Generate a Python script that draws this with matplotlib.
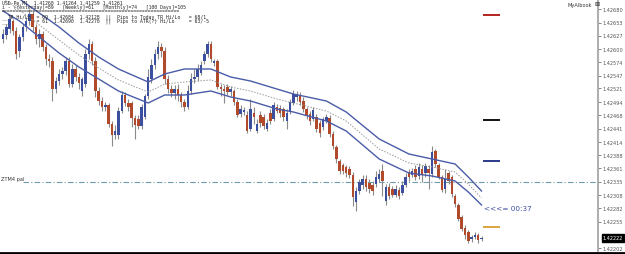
import matplotlib
matplotlib.use("Agg")
import matplotlib.pyplot as plt
from matplotlib.lines import Line2D
from matplotlib.transforms import blended_transform_factory
import numpy as np

# M1 candles
opens = [1.42620, 1.42628, 1.42640, 1.42656, 1.42636, 1.42596, 1.42624, 1.42644, 1.42656, 1.42670,
         1.42644, 1.42620, 1.42630, 1.42604, 1.42580, 1.42576, 1.42520, 1.42536, 1.42550, 1.42556,
         1.42576, 1.42530, 1.42560, 1.42544, 1.42516, 1.42530, 1.42590, 1.42610, 1.42576, 1.42516,
         1.42496, 1.42484, 1.42488, 1.42450, 1.42428, 1.42428, 1.42476, 1.42508, 1.42492, 1.42492,
         1.42462, 1.42460, 1.42446, 1.42464, 1.42506, 1.42540, 1.42568, 1.42590, 1.42604, 1.42596,
         1.42540, 1.42520, 1.42512, 1.42520, 1.42508, 1.42494, 1.42484, 1.42516, 1.42540, 1.42544,
         1.42552, 1.42576, 1.42590, 1.42610, 1.42572, 1.42576, 1.42524, 1.42520, 1.42524, 1.42514,
         1.42516, 1.42494, 1.42470, 1.42474, 1.42468, 1.42440, 1.42472, 1.42436, 1.42468, 1.42464,
         1.42440, 1.42472, 1.42460, 1.42484, 1.42482, 1.42480, 1.42456, 1.42476, 1.42492, 1.42504,
         1.42508, 1.42496, 1.42480, 1.42470, 1.42460, 1.42464, 1.42452, 1.42444, 1.42456, 1.42462,
         1.42430, 1.42404, 1.42376, 1.42368, 1.42364, 1.42360, 1.42348, 1.42294, 1.42316, 1.42328,
         1.42340, 1.42332, 1.42328, 1.42330, 1.42340, 1.42356, 1.42296, 1.42324, 1.42320, 1.42308,
         1.42318, 1.42312, 1.42328, 1.42354, 1.42348, 1.42360, 1.42346, 1.42360, 1.42352, 1.42360,
         1.42350, 1.42396, 1.42368, 1.42344, 1.42320, 1.42352, 1.42344, 1.42306, 1.42288, 1.42264,
         1.42242, 1.42234, 1.42220, 1.42224, 1.42228, 1.42220]
closes = [1.42630, 1.42644, 1.42660, 1.42636, 1.42590, 1.42624, 1.42644, 1.42656, 1.42670, 1.42644,
          1.42620, 1.42630, 1.42604, 1.42580, 1.42576, 1.42520, 1.42536, 1.42550, 1.42556, 1.42576,
          1.42530, 1.42560, 1.42544, 1.42532, 1.42540, 1.42590, 1.42610, 1.42576, 1.42516, 1.42496,
          1.42484, 1.42488, 1.42450, 1.42428, 1.42436, 1.42476, 1.42508, 1.42492, 1.42484, 1.42462,
          1.42448, 1.42446, 1.42484, 1.42506, 1.42544, 1.42568, 1.42590, 1.42604, 1.42596, 1.42540,
          1.42520, 1.42512, 1.42520, 1.42508, 1.42494, 1.42484, 1.42516, 1.42540, 1.42544, 1.42560,
          1.42568, 1.42590, 1.42610, 1.42580, 1.42576, 1.42524, 1.42520, 1.42516, 1.42514, 1.42520,
          1.42494, 1.42468, 1.42480, 1.42478, 1.42436, 1.42480, 1.42464, 1.42450, 1.42452, 1.42446,
          1.42452, 1.42456, 1.42488, 1.42476, 1.42472, 1.42464, 1.42472, 1.42494, 1.42510, 1.42510,
          1.42494, 1.42480, 1.42466, 1.42456, 1.42478, 1.42440, 1.42432, 1.42460, 1.42464, 1.42430,
          1.42406, 1.42380, 1.42356, 1.42356, 1.42352, 1.42348, 1.42304, 1.42316, 1.42334, 1.42340,
          1.42324, 1.42320, 1.42316, 1.42344, 1.42350, 1.42336, 1.42324, 1.42306, 1.42308, 1.42320,
          1.42306, 1.42328, 1.42344, 1.42344, 1.42356, 1.42344, 1.42364, 1.42348, 1.42366, 1.42352,
          1.42394, 1.42370, 1.42344, 1.42318, 1.42340, 1.42336, 1.42310, 1.42290, 1.42260, 1.42240,
          1.42228, 1.42216, 1.42224, 1.42228, 1.42218, 1.42222]
highs = [1.42640, 1.42650, 1.42668, 1.42660, 1.42644, 1.42630, 1.42650, 1.42664, 1.42680, 1.42676,
         1.42650, 1.42640, 1.42636, 1.42610, 1.42590, 1.42584, 1.42544, 1.42560, 1.42564, 1.42584,
         1.42584, 1.42570, 1.42568, 1.42552, 1.42544, 1.42600, 1.42620, 1.42616, 1.42584, 1.42524,
         1.42504, 1.42494, 1.42492, 1.42456, 1.42448, 1.42484, 1.42516, 1.42514, 1.42500, 1.42496,
         1.42468, 1.42468, 1.42490, 1.42510, 1.42560, 1.42580, 1.42600, 1.42616, 1.42612, 1.42604,
         1.42548, 1.42528, 1.42528, 1.42530, 1.42514, 1.42500, 1.42528, 1.42552, 1.42560, 1.42570,
         1.42576, 1.42596, 1.42616, 1.42616, 1.42580, 1.42580, 1.42530, 1.42528, 1.42530, 1.42526,
         1.42520, 1.42500, 1.42488, 1.42484, 1.42476, 1.42500, 1.42484, 1.42460, 1.42476, 1.42470,
         1.42460, 1.42480, 1.42494, 1.42490, 1.42488, 1.42484, 1.42480, 1.42500, 1.42518, 1.42516,
         1.42514, 1.42504, 1.42484, 1.42476, 1.42484, 1.42470, 1.42458, 1.42464, 1.42470, 1.42468,
         1.42436, 1.42408, 1.42380, 1.42372, 1.42368, 1.42366, 1.42354, 1.42324, 1.42340, 1.42348,
         1.42348, 1.42340, 1.42336, 1.42356, 1.42360, 1.42370, 1.42330, 1.42332, 1.42326, 1.42328,
         1.42324, 1.42336, 1.42352, 1.42360, 1.42362, 1.42368, 1.42372, 1.42368, 1.42372, 1.42368,
         1.42406, 1.42400, 1.42372, 1.42348, 1.42360, 1.42356, 1.42348, 1.42310, 1.42292, 1.42268,
         1.42248, 1.42238, 1.42228, 1.42234, 1.42232, 1.42226]
lows = [1.42612, 1.42620, 1.42632, 1.42628, 1.42580, 1.42584, 1.42616, 1.42636, 1.42648, 1.42636,
        1.42610, 1.42604, 1.42596, 1.42568, 1.42564, 1.42496, 1.42512, 1.42528, 1.42540, 1.42548,
        1.42524, 1.42524, 1.42536, 1.42520, 1.42506, 1.42524, 1.42580, 1.42568, 1.42504, 1.42488,
        1.42476, 1.42476, 1.42444, 1.42406, 1.42420, 1.42420, 1.42472, 1.42486, 1.42476, 1.42444,
        1.42420, 1.42440, 1.42440, 1.42460, 1.42500, 1.42532, 1.42560, 1.42580, 1.42584, 1.42530,
        1.42512, 1.42504, 1.42500, 1.42496, 1.42484, 1.42476, 1.42480, 1.42510, 1.42532, 1.42536,
        1.42548, 1.42570, 1.42584, 1.42574, 1.42566, 1.42520, 1.42506, 1.42492, 1.42508, 1.42506,
        1.42488, 1.42464, 1.42464, 1.42468, 1.42432, 1.42436, 1.42450, 1.42432, 1.42444, 1.42440,
        1.42436, 1.42450, 1.42456, 1.42472, 1.42464, 1.42456, 1.42440, 1.42470, 1.42488, 1.42496,
        1.42488, 1.42474, 1.42460, 1.42448, 1.42456, 1.42434, 1.42424, 1.42438, 1.42452, 1.42424,
        1.42400, 1.42372, 1.42350, 1.42350, 1.42344, 1.42342, 1.42286, 1.42276, 1.42310, 1.42320,
        1.42316, 1.42312, 1.42308, 1.42324, 1.42334, 1.42306, 1.42288, 1.42300, 1.42304, 1.42304,
        1.42300, 1.42308, 1.42324, 1.42336, 1.42344, 1.42338, 1.42340, 1.42334, 1.42344, 1.42320,
        1.42344, 1.42364, 1.42340, 1.42314, 1.42312, 1.42330, 1.42304, 1.42284, 1.42256, 1.42236,
        1.42220, 1.42212, 1.42214, 1.42220, 1.42212, 1.42216]

# envelope around the moving average (sampled at these bars)
band_idx = [0, 5, 11, 17, 23, 29, 35, 44, 49, 55, 63, 69, 75, 83, 88, 98, 104, 114, 123, 130, 137, 141, 145]
band_upper = [1.42724, 1.42700, 1.42672, 1.42644, 1.42612, 1.42584, 1.42560, 1.42534, 1.42550, 1.42560,
              1.42560, 1.42544, 1.42536, 1.42520, 1.42510, 1.42496, 1.42474, 1.42420, 1.42390, 1.42380,
              1.42370, 1.42344, 1.42316]
band_mid = [1.42700, 1.42678, 1.42648, 1.42618, 1.42588, 1.42562, 1.42538, 1.42514, 1.42530, 1.42534,
            1.42538, 1.42524, 1.42516, 1.42500, 1.42492, 1.42476, 1.42456, 1.42400, 1.42372, 1.42364,
            1.42354, 1.42330, 1.42302]
band_lower = [1.42676, 1.42656, 1.42624, 1.42592, 1.42564, 1.42540, 1.42516, 1.42492, 1.42508, 1.42508,
              1.42516, 1.42504, 1.42496, 1.42480, 1.42474, 1.42456, 1.42436, 1.42380, 1.42352, 1.42346,
              1.42336, 1.42314, 1.42288]

pal_level = 1.42334
level_prices = [1.42668, 1.42458, 1.42376, 1.42244]
level_colors = ["#b22222", "#111111", "#2b3a8a", "#d9a441"]
timer_price = 1.42282
last_price = 1.42222
# the 1.42228 label sits under the price box, so it is not drawn
tick_prices = [1.42680, 1.42653, 1.42627, 1.42600, 1.42574, 1.42547, 1.42521, 1.42494, 1.42468, 1.42441,
               1.42414, 1.42388, 1.42361, 1.42335, 1.42308, 1.42282, 1.42255, 1.42202]

header = [
    "USD-Pe,M1  1.41260 1.41264 1.41259 1.41261",
    "i - (Yesterday)=89   [Weekly]=61   [Monthly]=74   [100 Days]=105",
    "=" * 62,
    "__TR Hi/Lo  = 69  1.42684  1.42128  ||  Pips to Today_TR Hi/Lo   = 68/1",
    "__          = 61  1.42690  1.42270  ||  Pips to ATR(?) Hi/Lo     = 63/-5",
]

BULL = "#3b4f9e"
BEAR = "#b04a2a"
WICK = "#8a8a8a"
BAND = "#4a5ca8"

fig = plt.figure(figsize=(6.25, 2.55), dpi=100)
ax = fig.add_axes([0, 3 / 255, 598 / 625, 252 / 255])

x = np.arange(len(opens))
o = np.array(opens)
c = np.array(closes)
up = c >= o
body_lo = np.minimum(o, c)
body_h = np.maximum(np.abs(c - o), 0.000015)

ax.vlines(x, lows, highs, color=WICK, lw=0.8, zorder=2)
ax.bar(x[up], body_h[up], bottom=body_lo[up], width=0.75, color=BULL, zorder=3, linewidth=0)
ax.bar(x[~up], body_h[~up], bottom=body_lo[~up], width=0.75, color=BEAR, zorder=3, linewidth=0)

ax.plot(band_idx, band_upper, color=BAND, lw=1.0, zorder=4)
ax.plot(band_idx, band_lower, color=BAND, lw=1.0, zorder=4)
ax.plot(band_idx, band_mid, color="#9a9a9a", lw=0.7, ls=(0, (1.5, 1.5)), zorder=4)

ax.set_xlim(-0.9, 180.3)
ax.set_ylim(1.42196, 1.42700)

# pal line across the chart
ax.hlines(pal_level, 6, 180.3, color="#6f9cab", lw=0.8, ls=(0, (5, 2, 1, 2)), zorder=1)
ax.text(-0.6, pal_level + 0.00002, "ZTM4 pal", fontsize=3.6, color="#333333", va="bottom", ha="left")

for lv, col in zip(level_prices, level_colors):
    ax.hlines(lv, 145.5, 150.5, color=col, lw=1.4, zorder=5)

ax.text(145.7, timer_price, "<<<= 00:37", fontsize=5.2, color="#3f4fa0", va="center", ha="left")

# right price scale
ax.yaxis.tick_right()
ax.set_yticks(tick_prices)
ax.set_yticklabels(["%.5f" % t for t in tick_prices], fontsize=3.6, color="#333333")
ax.tick_params(axis="y", length=2, width=0.5, pad=1.5, colors="#555555")
ax.set_xticks([])
for s in ["top", "left", "bottom"]:
    ax.spines[s].set_visible(False)
ax.spines["right"].set_color("#a0a0a0")
ax.spines["right"].set_linewidth(1.2)

tr = blended_transform_factory(ax.transAxes, ax.transData)
ax.text(1.008, last_price, "%.5f" % last_price, transform=tr, fontsize=3.6, color="white",
        va="center", ha="left", bbox=dict(boxstyle="square,pad=0.25", fc="black", ec="black"), zorder=6)

for k, line in enumerate(header):
    fig.text(2 / 625, 1 - (3 + 4.6 * k) / 255, line, fontsize=3.4, color="#222222",
             va="center", ha="left", family="DejaVu Sans Mono")

fig.text(592 / 625, 1 - 5 / 255, "MyAlbook", fontsize=3.6, color="#333333", va="center", ha="right")
fig.text(597 / 625, 1 - 5 / 255, "\u22a0", fontsize=4.5, color="#333333", va="center", ha="center")

fig.add_artist(Line2D([0, 1], [1.5 / 255, 1.5 / 255], color="black", lw=2))

fig.savefig("out.png", dpi=100)
